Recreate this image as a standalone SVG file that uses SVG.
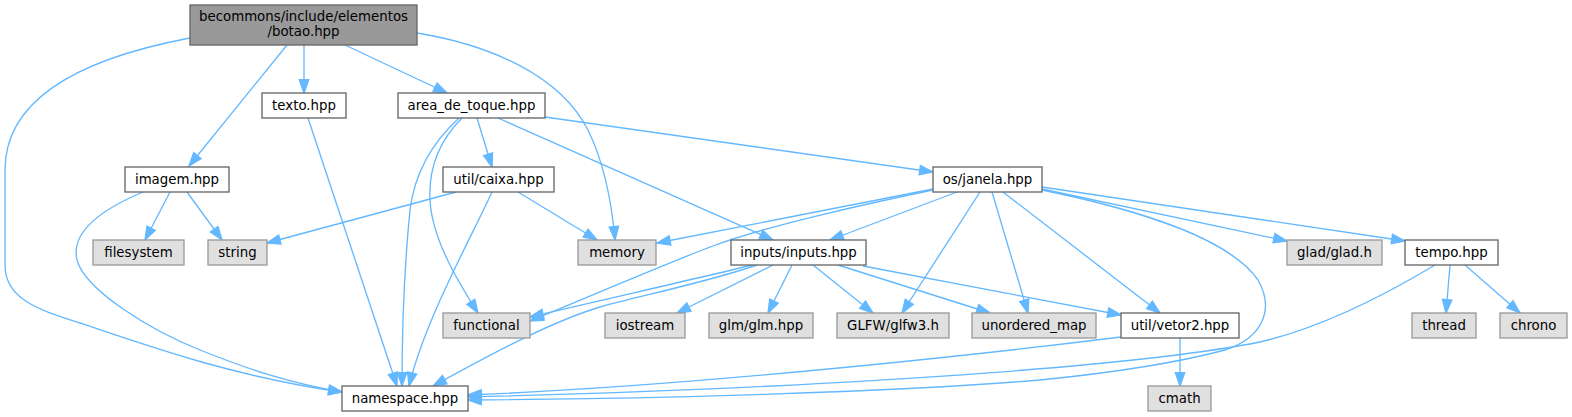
<svg xmlns="http://www.w3.org/2000/svg" width="1572" height="417" viewBox="0 0 1572 417">
<style>
.n rect{fill:#ffffff;stroke:#666666;stroke-width:1.33}
.x rect{fill:#e0e0e0;stroke:#999999;stroke-width:1.33}
.m rect{fill:#999999;stroke:#666666;stroke-width:1.33}
text{font-family:"DejaVu Sans","Liberation Sans",sans-serif;font-size:13.33px;fill:#000000;text-anchor:middle}
#edges path{fill:none;stroke:#63b8ff;stroke-width:1.33;marker-end:url(#arr)}
</style>
<defs>
<marker id="arr" viewBox="-15 -6 17 12" refX="0" refY="0" markerWidth="17" markerHeight="12" markerUnits="userSpaceOnUse" orient="auto" overflow="visible">
<path d="M-13.3,-4.7 L0,0 L-13.3,4.7 Z" fill="#63b8ff" stroke="#63b8ff" stroke-width="1.33"/>
</marker>
</defs>
<rect width="1572" height="417" fill="#ffffff"/>
<g id="edges">
<path d="M190,38 C100,55 5,90 5,170 L5,265 C5,300 40,310 80,323 C150,347 240,378 342,392"/>
<path d="M287,45 L189,166"/>
<path d="M304,45 L304,93"/>
<path d="M345,45 L447,93"/>
<path d="M417,33 C490,45 560,75 588,130 C605,165 612,205 615,240"/>
<path d="M477,118 L492,167"/>
<path d="M459,118 C435,140 415,170 410,210 C405,260 402,330 402,386"/>
<path d="M462,118 C445,135 428,160 430,200 C432,240 460,285 478,313"/>
<path d="M498,118 L773,240"/>
<path d="M545,117 L933,172"/>
<path d="M308,118 L397,386"/>
<path d="M456,192 L267,243"/>
<path d="M492,192 C470,240 425,320 409,386"/>
<path d="M518,192 L597,240"/>
<path d="M143,192 C105,208 70,230 77,260 C85,290 150,330 200,350 C250,370 290,383 342,392"/>
<path d="M170,192 L145,240"/>
<path d="M187,192 L222,240"/>
<path d="M933,189 L657,243"/>
<path d="M933,190 C860,205 760,228 713,246 C680,258 600,292 530,321"/>
<path d="M957,192 L830,240"/>
<path d="M980,192 L902,313"/>
<path d="M992,192 L1028,313"/>
<path d="M1003,192 L1160,313"/>
<path d="M1042,189 L1287,241"/>
<path d="M1042,187 L1405,241"/>
<path d="M1042,190 C1150,212 1232,242 1258,280 C1275,310 1262,338 1225,350 C1180,362 1120,372 1040,380 C900,392 650,399 468,400"/>
<path d="M773,265 L677,313"/>
<path d="M792,265 L768,313"/>
<path d="M813,265 L873,313"/>
<path d="M838,265 L990,313"/>
<path d="M863,266 L1121,315"/>
<path d="M752,265 C700,278 610,298 530,317"/>
<path d="M757,265 C715,280 640,296 600,307 C550,322 490,355 433,386"/>
<path d="M1450,265 L1446,313"/>
<path d="M1465,265 L1520,313"/>
<path d="M1435,265 C1380,298 1320,328 1260,342 C1160,362 900,386 468,397"/>
<path d="M1121,337 C1000,352 700,386 468,395"/>
<path d="M1180,338 L1180,386"/>
</g>
<g id="botao" class="m"><rect x="190" y="5" width="227" height="40"/><text x="303.5" y="20.5">becommons/include/elementos</text><text x="303.5" y="35.5">/botao.hpp</text></g>
<g id="texto" class="n"><rect x="262" y="93" width="84" height="25"/><text x="304" y="110">texto.hpp</text></g>
<g id="area_de_toque" class="n"><rect x="398" y="93" width="147" height="25"/><text x="471.5" y="110">area_de_toque.hpp</text></g>
<g id="imagem" class="n"><rect x="125" y="167" width="104" height="25"/><text x="177" y="184">imagem.hpp</text></g>
<g id="caixa" class="n"><rect x="443" y="167" width="111" height="25"/><text x="498.5" y="184">util/caixa.hpp</text></g>
<g id="janela" class="n"><rect x="933" y="167" width="109" height="25"/><text x="987.5" y="184">os/janela.hpp</text></g>
<g id="filesystem" class="x"><rect x="93" y="240" width="91" height="25"/><text x="138.5" y="257">filesystem</text></g>
<g id="string" class="x"><rect x="208" y="240" width="59" height="25"/><text x="237.5" y="257">string</text></g>
<g id="memory" class="x"><rect x="578" y="240" width="78" height="25"/><text x="617" y="257">memory</text></g>
<g id="inputs" class="n"><rect x="731" y="240" width="135" height="25"/><text x="798.5" y="257">inputs/inputs.hpp</text></g>
<g id="glad" class="x"><rect x="1287" y="240" width="95" height="25"/><text x="1334.5" y="257">glad/glad.h</text></g>
<g id="tempo" class="n"><rect x="1405" y="240" width="93" height="25"/><text x="1451.5" y="257">tempo.hpp</text></g>
<g id="functional" class="x"><rect x="443" y="313" width="87" height="25"/><text x="486.5" y="330">functional</text></g>
<g id="iostream" class="x"><rect x="605" y="313" width="80" height="25"/><text x="645" y="330">iostream</text></g>
<g id="glm" class="x"><rect x="709" y="313" width="104" height="25"/><text x="761" y="330">glm/glm.hpp</text></g>
<g id="glfw" class="x"><rect x="837" y="313" width="112" height="25"/><text x="893" y="330">GLFW/glfw3.h</text></g>
<g id="unordered_map" class="x"><rect x="972" y="313" width="124" height="25"/><text x="1034" y="330">unordered_map</text></g>
<g id="vetor2" class="n"><rect x="1121" y="313" width="118" height="25"/><text x="1180" y="330">util/vetor2.hpp</text></g>
<g id="thread" class="x"><rect x="1412" y="313" width="64" height="25"/><text x="1444" y="330">thread</text></g>
<g id="chrono" class="x"><rect x="1500" y="313" width="67" height="25"/><text x="1533.5" y="330">chrono</text></g>
<g id="namespace" class="n"><rect x="342" y="386" width="126" height="25"/><text x="405" y="403">namespace.hpp</text></g>
<g id="cmath" class="x"><rect x="1148" y="386" width="63" height="25"/><text x="1179.5" y="403">cmath</text></g>
</svg>
